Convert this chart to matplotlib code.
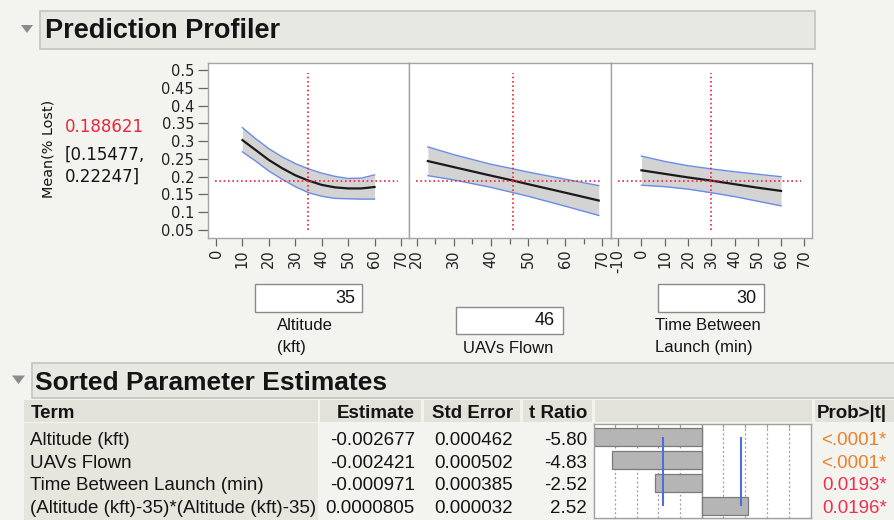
import matplotlib.pyplot as plt
from matplotlib.patches import Rectangle, Polygon
from matplotlib.ticker import FixedLocator, FuncFormatter

# profiler traces: factor settings and predicted mean with confidence band
alt_x = [10, 15, 20, 25, 30, 35, 40, 45, 50, 55, 60]
alt_mean = [0.303, 0.275, 0.247, 0.224, 0.204, 0.189, 0.177, 0.170, 0.167, 0.167, 0.171]
alt_upper = [0.338, 0.307, 0.279, 0.256, 0.237, 0.222, 0.210, 0.201, 0.195, 0.196, 0.205]
alt_lower = [0.270, 0.244, 0.216, 0.193, 0.172, 0.155, 0.145, 0.139, 0.138, 0.137, 0.137]

uav_x = [23, 30, 40, 46, 50, 60, 69]
uav_mean = [0.244, 0.227, 0.203, 0.189, 0.179, 0.155, 0.133]
uav_upper = [0.284, 0.262, 0.235, 0.222, 0.213, 0.193, 0.175]
uav_lower = [0.203, 0.191, 0.170, 0.155, 0.145, 0.117, 0.091]

time_x = [0, 10, 20, 30, 40, 50, 60]
time_mean = [0.218, 0.208, 0.198, 0.189, 0.179, 0.169, 0.160]
time_upper = [0.258, 0.243, 0.231, 0.222, 0.214, 0.207, 0.200]
time_lower = [0.176, 0.172, 0.165, 0.155, 0.144, 0.131, 0.118]

current = [35, 46, 30]
pred = 0.188621
pred_ci = ["[0.15477,", "0.22247]"]
y_ticks = [0.05, 0.1, 0.15, 0.2, 0.25, 0.3, 0.35, 0.4, 0.45, 0.5]
x_ticks = [[0, 10, 20, 30, 40, 50, 60, 70],
           [20, 30, 40, 50, 60, 70],
           [-10, 0, 10, 20, 30, 40, 50, 60, 70]]

# sorted parameter estimates
terms = ["Altitude (kft)", "UAVs Flown", "Time Between Launch (min)",
         "(Altitude (kft)-35)*(Altitude (kft)-35)"]
estimates = ["-0.002677", "-0.002421", "-0.000971", "0.0000805"]
std_errors = ["0.000462", "0.000502", "0.000385", "0.000032"]
t_ratios = [-5.80, -4.83, -2.52, 2.52]
probs = ["<.0001*", "<.0001*", "0.0193*", "0.0196*"]
t_crit = 2.1
t_grid = [-4.7, -3.52, -2.35, -1.17, 1.17, 2.35, 3.52, 4.7]

W, H = 894, 520
PAGE = "#f3f3ef"
BOXFACE = "#e8e8e3"
BOXEDGE = "#c4c4be"
RED = "#e8283c"
BAND = "#d3d3d3"
BLUE = "#6b8be8"
INK = "#141414"
LUC = "DejaVu Sans"
HEL = "Liberation Sans"

fig = plt.figure(figsize=(W / 100, H / 100), dpi=100, facecolor=PAGE)


def px_rect(x0, y0, x1, y1):
    return [x0 / W, 1 - y1 / H, (x1 - x0) / W, (y1 - y0) / H]


bg = fig.add_axes([0, 0, 1, 1])
bg.set_xlim(0, W)
bg.set_ylim(H, 0)
bg.axis("off")


def header(x0, y0, x1, y1, title, tri, tx, ty, size):
    bg.add_patch(Rectangle((x0, y0), x1 - x0, y1 - y0, fc=BOXFACE, ec=BOXEDGE, lw=1.2))
    bg.add_patch(Polygon(tri, closed=True, fc="#8c8c8c", ec="none"))
    bg.text(tx, ty, title, fontsize=size, fontweight="bold", family=HEL,
            color=INK, va="baseline", ha="left")


header(40, 11, 815, 49, "Prediction Profiler",
       [(21, 25), (33, 25), (27, 33)], 45, 37.5, 19.5)

# profiler panels
panels = [(208, 409, (-3.03, 73.05), alt_x, alt_mean, alt_upper, alt_lower),
          (409, 611, (17.93, 72.3), uav_x, uav_mean, uav_upper, uav_lower),
          (611, 812, (-13.1, 73.3), time_x, time_mean, time_upper, time_lower)]

for i, (x0, x1, xlim, xs, m, up, lo) in enumerate(panels):
    ax = fig.add_axes(px_rect(x0, 63, x1, 238))
    ax.set_facecolor("white")
    ax.fill_between(xs, lo, up, color=BAND, lw=0, zorder=1)
    ax.plot(xs, up, color=BLUE, lw=1.0, zorder=2)
    ax.plot(xs, lo, color=BLUE, lw=1.0, zorder=2)
    ax.plot(xs, m, color="#1a1a1a", lw=1.6, zorder=3)
    ax.axhline(pred, xmin=0.035, xmax=0.945, color=RED, lw=1.2,
               ls=(0, (1, 1.6)), zorder=4)
    ax.axvline(current[i], ymin=0.046, ymax=0.945, color=RED, lw=1.2,
               ls=(0, (1, 1.6)), zorder=4)
    ax.set_xlim(*xlim)
    ax.set_ylim(0.0275, 0.52)
    for s in ax.spines.values():
        s.set_color("#a4a4a4")
        s.set_linewidth(1.0)
    ax.set_xticks(x_ticks[i])
    ax.set_xticklabels([str(t) for t in x_ticks[i]], rotation=90,
                       fontsize=10.5, family=LUC, color="#222")
    ax.tick_params(axis="x", direction="out", length=6, width=0.9,
                   color="#666", pad=2)
    if i == 1:
        ax.xaxis.set_minor_locator(FixedLocator([25, 35, 45, 55, 65]))
        ax.tick_params(axis="x", which="minor", direction="out", length=4,
                       width=0.9, color="#666")
    if i == 0:
        ax.set_yticks(y_ticks)
        ax.yaxis.set_major_formatter(FuncFormatter(lambda v, p: f"{v:g}"))
        ax.tick_params(axis="y", direction="out", length=7, width=0.9,
                       color="#666", pad=3, labelsize=10.5, labelcolor="#222")
        for lab in ax.get_yticklabels():
            lab.set_family(LUC)
    else:
        ax.set_yticks([])

bg.text(48.5, 149, "Mean(% Lost)", rotation=90, fontsize=10.4, family=LUC,
        color=INK, ha="center", va="center")
bg.text(65, 132.3, f"{pred:.6f}", fontsize=12, family=LUC, color=RED, va="baseline")
bg.text(65, 160, pred_ci[0], fontsize=12, family=LUC, color=INK, va="baseline")
bg.text(65, 181.7, pred_ci[1], fontsize=12, family=LUC, color=INK, va="baseline")

# factor setting boxes
boxes = [(255, 284.3, 362, 312.3, 355, 303.3),
         (456, 306.7, 563, 334, 555, 325),
         (658, 284.3, 764, 312.3, 756.7, 303.3)]
for (bx0, by0, bx1, by1, vx, vy), v in zip(boxes, current):
    bg.add_patch(Rectangle((bx0, by0), bx1 - bx0, by1 - by0, fc="white",
                           ec="#8a8a8a", lw=1.0))
    bg.text(vx, vy, str(v), fontsize=13, family=HEL, color=INK,
            ha="right", va="baseline")

factor_labels = [(276.7, 330, "Altitude"), (276.7, 352, "(kft)"),
                 (462.7, 353, "UAVs Flown"),
                 (655, 330, "Time Between"), (655, 352, "Launch (min)")]
for lx, ly, txt in factor_labels:
    bg.text(lx, ly, txt, fontsize=12, family=HEL, color=INK, va="baseline")

# parameter estimates table
header(31.7, 363, 900, 398, "Sorted Parameter Estimates",
       [(12, 375.5), (25, 375.5), (18.5, 384)], 35, 390, 19)

col_cells = [(24, 318), (320, 421), (424, 520), (523, 592), (595, 812), (815, 894)]
for cx0, cx1 in col_cells:
    bg.add_patch(Rectangle((cx0, 399.5), cx1 - cx0, 22.5, fc="#e2e2da", ec="none"))
bg.add_patch(Rectangle((24, 423), 294, 97, fc="#e6e6df", ec="none"))

hdr = [(30.7, "left", "Term"), (415, "right", "Estimate"),
       (512.7, "right", "Std Error"), (587, "right", "t Ratio"),
       (887, "right", "Prob>|t|")]
for hx, ha, txt in hdr:
    bg.text(hx, 418, txt, fontsize=13.5, fontweight="bold", family=HEL,
            color=INK, ha=ha, va="baseline")

baselines = [445, 467.7, 490.4, 513]
for j in range(len(terms)):
    yb = baselines[j]
    bg.text(29.5, yb, terms[j], fontsize=13.5, family=HEL, color=INK, va="baseline")
    bg.text(415, yb, estimates[j], fontsize=13.5, family=HEL, color=INK,
            ha="right", va="baseline")
    bg.text(512.7, yb, std_errors[j], fontsize=13.5, family=HEL, color=INK,
            ha="right", va="baseline")
    bg.text(587, yb, f"{t_ratios[j]:.2f}", fontsize=13.5, family=HEL, color=INK,
            ha="right", va="baseline")
    pcol = "#f08028" if probs[j].startswith("<") else "#ee3050"
    bg.text(887, yb, probs[j], fontsize=13.5, family=HEL, color=pcol,
            ha="right", va="baseline")

axt = fig.add_axes(px_rect(594, 424, 811, 518))
axt.set_facecolor("white")
for g in t_grid:
    axt.axvline(g, color="#9a9a9a", lw=0.9, ls=(0, (1.5, 2)), zorder=0)
axt.barh(range(len(t_ratios)), t_ratios, height=0.78, color="#b5b5b5",
         edgecolor="#7a7a7a", lw=0.9, zorder=2)
axt.axvline(0, color="#8a8a8a", lw=1.0, zorder=1)
axt.vlines([-t_crit, t_crit], 0, len(t_ratios) - 1, color="#4a70e0", lw=1.5, zorder=3)
axt.set_xlim(-5.82, 5.9)
axt.set_ylim(3.52, -0.565)
axt.set_yticks([])
axt.set_xticks(t_grid)
axt.tick_params(axis="x", bottom=False, top=True, labelbottom=False,
                direction="in", length=3, color="#999")
for s in axt.spines.values():
    s.set_color("#a0a0a0")
    s.set_linewidth(1.0)

fig.savefig("out.png", dpi=100, facecolor=PAGE)
